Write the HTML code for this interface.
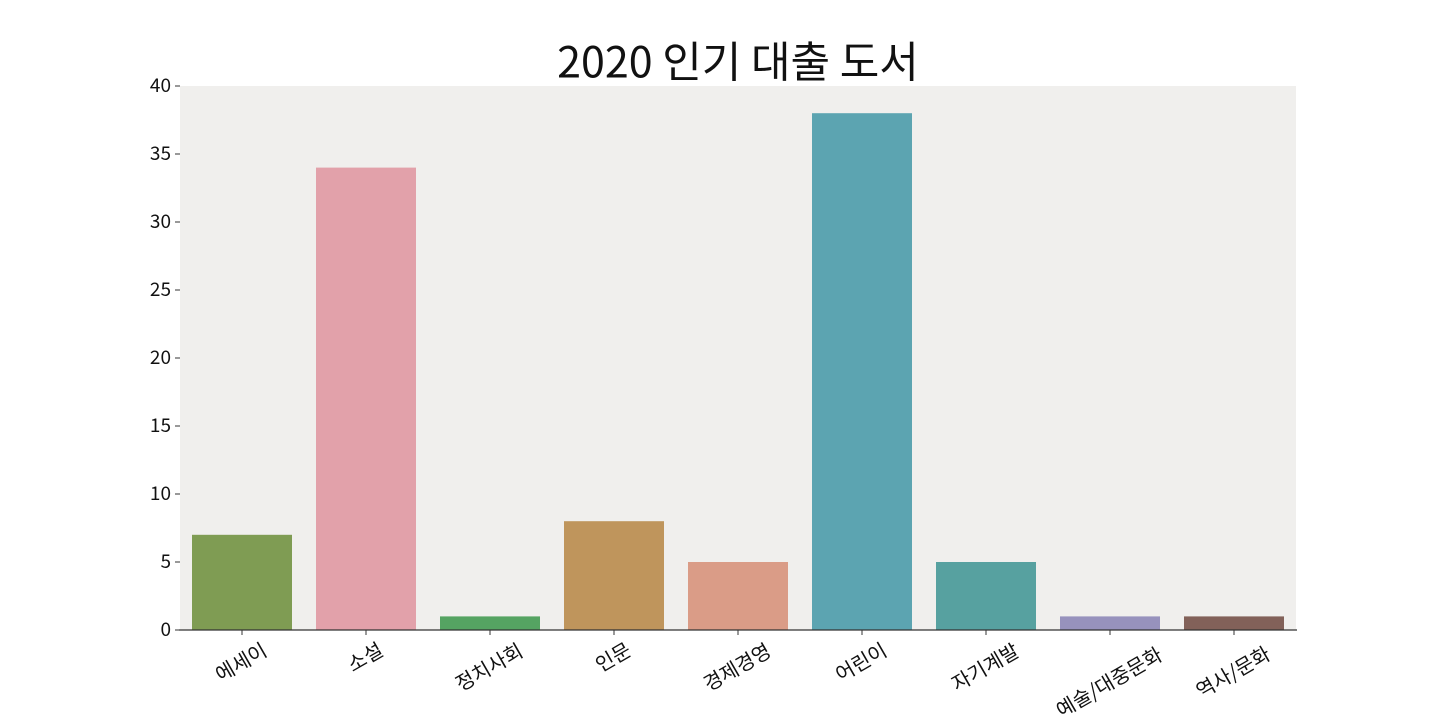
<!DOCTYPE html>
<html><head><meta charset="utf-8"><style>
body{margin:0;background:#fff;}
svg text{font-family:"Noto Sans CJK KR","Liberation Sans",sans-serif;}
</style></head><body>
<svg id="chart" width="1440" height="720" xmlns="http://www.w3.org/2000/svg">
<text x="738" y="66" text-anchor="middle" dominant-baseline="middle" font-size="43" fill="#111">2020 인기 대출 도서</text>
<rect x="180" y="86" width="1116" height="544" fill="#f0efed"/>
<g id="bars"></g><g id="yaxis"></g><g id="xaxis"></g>
<line x1="179" y1="630" x2="1297" y2="630" stroke="#333" stroke-width="1.3"/>
</svg>
<script>
const categories=["에세이","소설","정치사회","인문","경제경영","어린이","자기계발","예술/대중문화","역사/문화"];
const values=[7,34,1,8,5,38,5,1,1];
const colors=["#7f9c53","#e2a1aa","#55a362","#bf955c","#da9c87","#5ca4b1","#57a1a0","#9792bd","#826159"];
const yTicks=[0,5,10,15,20,25,30,35,40];
const NS="http://www.w3.org/2000/svg";
const x0=180,x1=1296,yTop=86,yBot=630,yMax=40;
const band=(x1-x0)/categories.length;
const xs=i=>x0+band*(i+0.5);
const ys=v=>yBot-(v/yMax)*(yBot-yTop);
function mk(t,a,p){const e=document.createElementNS(NS,t);for(const k in a)e.setAttribute(k,a[k]);p.appendChild(e);return e;}
const gb=document.getElementById('bars'),gy=document.getElementById('yaxis'),gx=document.getElementById('xaxis');
values.forEach((v,i)=>{
 const r=mk('rect',{x:xs(i)-50,y:ys(v),width:100,height:ys(0)-ys(v),fill:colors[i]},gb);
 
 
 const t=mk('line',{x1:xs(i),x2:xs(i),y1:630,y2:635,stroke:'#333'},gx);
 
 
 const w=categories[i].length*20;
 const cy=640+(w*0.5+20*0.87)/2;
 const l=mk('text',{x:xs(i),y:cy,'text-anchor':'middle','font-size':20,fill:'#111','dominant-baseline':'middle',transform:`rotate(-30 ${xs(i)} ${cy})`},gx);
 l.textContent=categories[i];
 
 
});
yTicks.forEach(v=>{
 const t=mk('line',{x1:175,x2:180,y1:ys(v),y2:ys(v),stroke:'#333'},gy);
 
 
 const l=mk('text',{x:171,y:ys(v)+1,'text-anchor':'end','dominant-baseline':'middle','font-size':19,fill:'#111'},gy);
 l.textContent=v;
 
 
});
</script>
</body></html>
